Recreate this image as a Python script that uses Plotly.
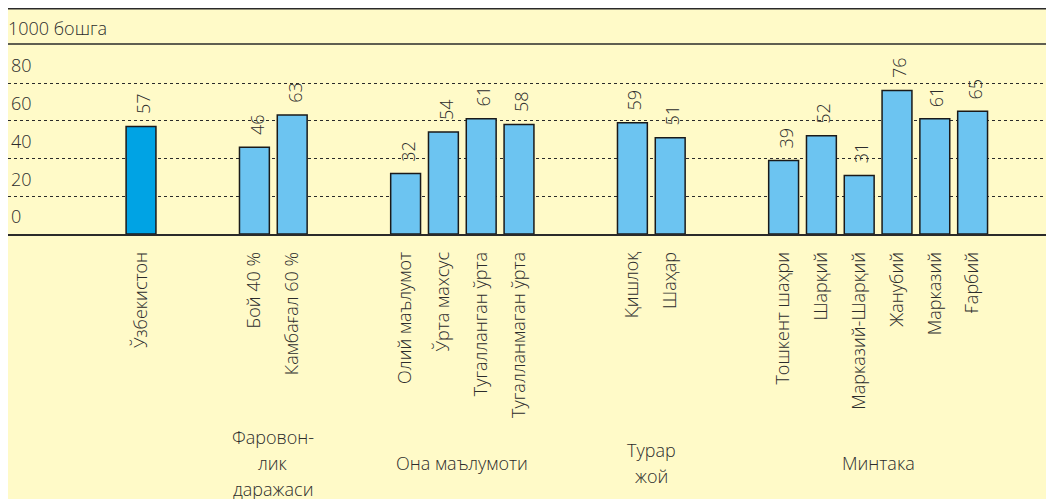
import plotly.graph_objects as go

# ---- data ----
group_titles = [[], ["Фаровон-", "лик", "даражаси"], ["Она маълумоти"], ["Турар", "жой"], ["Минтака"]]
group_categories = [
    ["Ўзбекистон"],
    ["Бой 40 %", "Камбағал 60 %"],
    ["Олий маълумот", "Ўрта махсус", "Тугалланган ўрта", "Тугалланмаган ўрта"],
    ["Қишлоқ", "Шаҳар"],
    ["Тошкент шаҳри", "Шарқий", "Марказий-Шарқий", "Жанубий", "Марказий", "Ғарбий"],
]
group_values = [
    [57],
    [46, 63],
    [32, 54, 61, 58],
    [59, 51],
    [39, 52, 31, 76, 61, 65],
]
y_ticks = [0, 20, 40, 60, 80]
unit_label = "1000 бошга"

# ---- styling ----
BG = "#fffac8"
TXT = "#2c2c2c"
LINE = "#2a2a2a"
FONT = "Open Sans"
FW = 300
FS = 18
COL_TOTAL = "#00a3e4"
COL_BAR = "#6cc4f1"
GAP = 2  # empty slots between groups
LINE_SPACING = 26  # px between lines of group titles


def fnt():
    return dict(family=FONT, size=FS, color=TXT, weight=FW)


# slot positions derived from group structure
cats, vals, xs, cols, group_centers = [], [], [], [], []
pos = 0
for gi, (gc, gv) in enumerate(zip(group_categories, group_values)):
    gx = []
    for c, v in zip(gc, gv):
        cats.append(c)
        vals.append(v)
        xs.append(pos)
        gx.append(pos)
        cols.append(COL_TOTAL if gi == 0 else COL_BAR)
        pos += 1
    group_centers.append(sum(gx) / len(gx))
    pos += GAP

fig = go.Figure()
fig.add_trace(go.Bar(
    x=xs, y=vals, width=0.79,
    marker=dict(color=cols, line=dict(color="#1a1a1a", width=1.5)),
    hoverinfo="skip",
))

annotations = []
for x, v in zip(xs, vals):
    annotations.append(dict(
        x=x, y=v, xref="x", yref="y", text=str(v), showarrow=False,
        textangle=-90, xanchor="center", yanchor="bottom", yshift=10, xshift=2,
        font=fnt(),
    ))
for lines, gx in zip(group_titles, group_centers):
    n = len(lines)
    for i, ln in enumerate(lines):
        annotations.append(dict(
            x=gx, y=-1.205, xref="x", yref="paper", text=ln, showarrow=False,
            xanchor="center", yanchor="middle", align="center",
            yshift=-(i - (n - 1) / 2) * LINE_SPACING,
            font=fnt(),
        ))
annotations.append(dict(
    x=0, y=1.0826, xref="paper", yref="paper", text=unit_label, showarrow=False,
    xanchor="left", yanchor="middle", xshift=-2,
    font=fnt(),
))

shapes = [
    dict(type="line", xref="paper", yref="paper", x0=0, x1=1, y0=1, y1=1,
         line=dict(color=LINE, width=1.5)),
    dict(type="line", xref="paper", yref="paper", x0=0, x1=1, y0=1.186, y1=1.186,
         line=dict(color=LINE, width=1.5)),
]

fig.update_layout(
    width=1054, height=499,
    margin=dict(l=0, r=0, t=36, b=273, autoexpand=False),
    paper_bgcolor=BG, plot_bgcolor=BG,
    showlegend=False,
    font=fnt(),
    annotations=annotations,
    shapes=shapes,
    xaxis=dict(
        range=[-3.519, 24.365], automargin=False,
        tickmode="array", tickvals=xs, ticktext=cats,
        tickangle=-90, ticks="", ticklabelstandoff=9,
        showgrid=False, zeroline=False,
        showline=True, linecolor=LINE, linewidth=1.5,
        tickfont=fnt(),
    ),
    yaxis=dict(
        range=[0, 100.66], automargin=False,
        tickmode="array", tickvals=y_ticks, ticktext=[str(t) for t in y_ticks],
        ticklabelposition="inside", ticklabelshift=-17,
        showgrid=True, gridcolor=LINE, griddash="dot", gridwidth=1,
        zeroline=False, showline=False, ticks="",
        tickfont=fnt(),
    ),
)

fig.write_html("out.html")
